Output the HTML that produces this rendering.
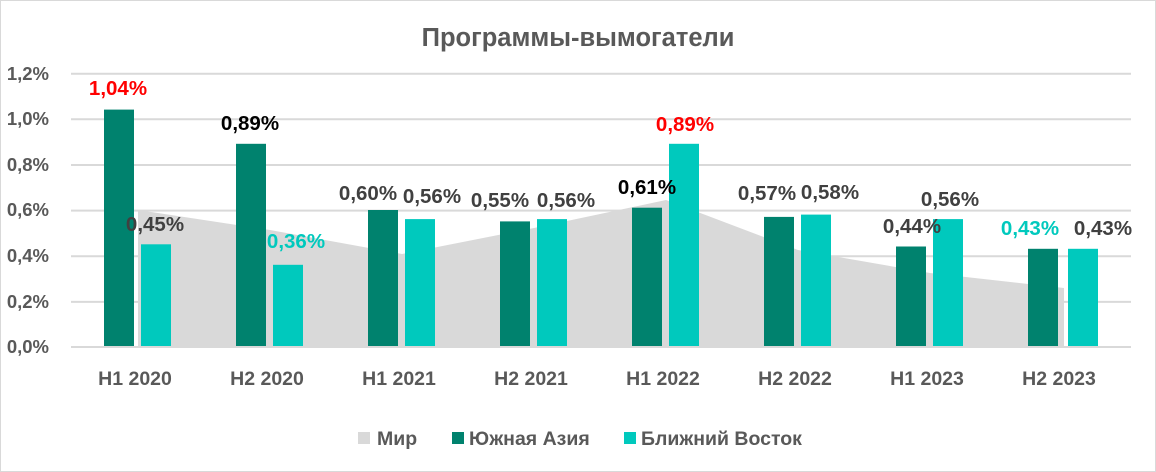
<!DOCTYPE html>
<html><head><meta charset="utf-8"><style>
html,body{margin:0;padding:0;background:#fff;}
svg{display:block;font-family:"Liberation Sans",sans-serif;}
</style></head><body>
<svg width="1156" height="472" viewBox="0 0 1156 472">
<rect x="0.5" y="0.5" width="1155" height="471" fill="#fff" stroke="#d9d9d9"/>
<text x="578" y="46" text-anchor="middle" font-size="25.5" font-weight="bold" fill="#595959">Программы-вымогатели</text>
<g stroke="#d9d9d9" stroke-width="2">
<line x1="71" y1="73.7" x2="1131" y2="73.7"/>
<line x1="71" y1="119.3" x2="1131" y2="119.3"/>
<line x1="71" y1="165" x2="1131" y2="165"/>
<line x1="71" y1="210.6" x2="1131" y2="210.6"/>
<line x1="71" y1="256.3" x2="1131" y2="256.3"/>
<line x1="71" y1="301.9" x2="1131" y2="301.9"/>
</g>
<g font-size="18.5" font-weight="bold" fill="#595959" text-anchor="end">
<text x="49" y="80">1,2%</text><text x="49" y="125">1,0%</text><text x="49" y="171">0,8%</text>
<text x="49" y="216">0,6%</text><text x="49" y="262">0,4%</text><text x="49" y="308">0,2%</text><text x="49" y="353">0,0%</text>
</g>
<polygon fill="#d9d9d9" points="138,347 138,210 270,230 402,254 534,228 666,200 798,250 930,273 1064,288 1064,347"/>
<g fill="#00826e">
<rect x="104" y="109.6" width="30" height="237.4"/>
<rect x="236" y="143.8" width="30" height="203.2"/>
<rect x="368" y="210" width="30" height="137"/>
<rect x="500" y="221.4" width="30" height="125.6"/>
<rect x="632" y="207.7" width="30" height="139.3"/>
<rect x="764" y="216.9" width="30" height="130.1"/>
<rect x="896" y="246.5" width="30" height="100.5"/>
<rect x="1028" y="248.8" width="30" height="98.2"/>
</g>
<g fill="#00c9bd">
<rect x="141" y="244.3" width="30" height="102.7"/>
<rect x="273" y="264.8" width="30" height="82.2"/>
<rect x="405" y="219.1" width="30" height="127.9"/>
<rect x="537" y="219.1" width="30" height="127.9"/>
<rect x="669" y="143.8" width="30" height="203.2"/>
<rect x="801" y="214.6" width="30" height="132.4"/>
<rect x="933" y="219.1" width="30" height="127.9"/>
<rect x="1068" y="248.8" width="30" height="98.2"/>
</g>
<line x1="71" y1="347" x2="1131" y2="347" stroke="#d9d9d9" stroke-width="2"/>
<g font-size="20.5" font-weight="bold" text-anchor="middle">
<text x="118" y="95" fill="#ff0000">1,04%</text>
<text x="155" y="231" fill="#404040">0,45%</text>
<text x="250" y="130" fill="#000">0,89%</text>
<text x="296" y="248" fill="#00c9bd">0,36%</text>
<text x="368" y="200" fill="#404040">0,60%</text>
<text x="432" y="203" fill="#404040">0,56%</text>
<text x="500" y="207" fill="#404040">0,55%</text>
<text x="566" y="207" fill="#404040">0,56%</text>
<text x="647" y="194" fill="#000">0,61%</text>
<text x="685" y="131" fill="#ff0000">0,89%</text>
<text x="767" y="200" fill="#404040">0,57%</text>
<text x="830" y="199" fill="#404040">0,58%</text>
<text x="912" y="233" fill="#404040">0,44%</text>
<text x="950" y="206" fill="#404040">0,56%</text>
<text x="1030" y="235" fill="#00c9bd">0,43%</text>
<text x="1103" y="235" fill="#404040">0,43%</text>
</g>
<g font-size="19.5" font-weight="bold" fill="#595959" text-anchor="middle">
<text x="135" y="385">H1 2020</text><text x="267" y="385">H2 2020</text>
<text x="399" y="385">H1 2021</text><text x="531" y="385">H2 2021</text>
<text x="663" y="385">H1 2022</text><text x="795" y="385">H2 2022</text>
<text x="927" y="385">H1 2023</text><text x="1059" y="385">H2 2023</text>
</g>
<rect x="358" y="432" width="12" height="12" fill="#d9d9d9"/>
<rect x="452" y="432" width="12" height="12" fill="#00826e"/>
<rect x="624" y="432" width="12" height="12" fill="#00c9bd"/>
<g font-size="19.5" font-weight="bold" fill="#595959">
<text x="377" y="445">Мир</text>
<text x="469" y="445">Южная Азия</text>
<text x="641" y="445">Ближний Восток</text>
</g>
</svg>
</body></html>
